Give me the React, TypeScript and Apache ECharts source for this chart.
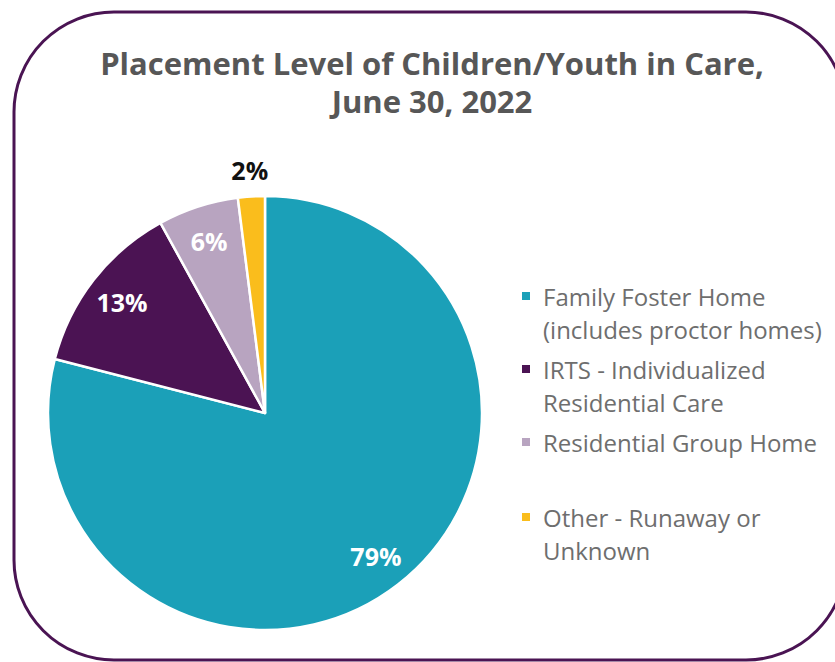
import React, { useEffect, useRef } from "react";
import * as echarts from "echarts";

const categories = [
  "Family Foster Home",
  "IRTS - Individualized Residential Care",
  "Residential Group Home",
  "Other - Runaway or Unknown",
];
const legendLabels = [
  "Family Foster Home\n(includes proctor homes)",
  "IRTS - Individualized\nResidential Care",
  "Residential Group Home\n ",
  "Other - Runaway or\nUnknown",
];
const values = [79, 13, 6, 2];
const colors = ["#1ba0b8", "#4b1353", "#b8a4c0", "#fabd1c"];
const titleLines = ["Placement Level of Children/Youth in Care,", "June 30, 2022"];

export default function App() {
  const ref = useRef<HTMLDivElement>(null);
  useEffect(() => {
    if (!ref.current) return;
    const chart = echarts.init(ref.current, undefined, { renderer: "svg" });
    const labelMap: Record<string, string> = {};
    categories.forEach((c, i) => (labelMap[c] = legendLabels[i]));
    const baseData = categories.map((name, i) => ({
      name,
      value: values[i],
      itemStyle: { color: colors[i] },
    }));
    const icon = "path://M0,0L8,0L8,8L0,8Z M16,42L15.99,42L16,41.99Z";
    const legendCommon = {
      orient: "vertical" as const,
      left: 522,
      padding: 0,
      itemGap: 7,
      itemWidth: 16,
      itemHeight: 42,
      icon,
      selectedMode: false,
      itemStyle: { borderWidth: 0 },
      formatter: (n: string) => labelMap[n],
      textStyle: {
        fontFamily: "Open Sans",
        fontSize: 24,
        lineHeight: 33,
        color: "#6e6e6e",
      },
    };
    chart.setOption({
      animation: false,
      graphic: [
        {
          type: "rect",
          shape: { x: 14, y: 12, width: 832, height: 648, r: 100 },
          style: { fill: "none", stroke: "#4a1453", lineWidth: 3 },
          silent: true,
        },
        ...titleLines.map((t, i) => ({
          type: "text",
          x: 432,
          y: 63 + i * 38,
          style: {
            text: t,
            align: "center",
            verticalAlign: "middle",
            fontFamily: "Open Sans",
            fontWeight: "bold",
            fontSize: 31,
            fill: "#575757",
          },
        })),
      ],
      legend: [
        { ...legendCommon, top: 280, data: categories.slice(0, 3) },
        { ...legendCommon, top: 501, data: categories.slice(3) },
      ],
      series: [
        {
          type: "pie",
          center: [265, 413],
          radius: [0, 217],
          startAngle: 90,
          clockwise: true,
          silent: true,
          data: baseData,
          itemStyle: { borderColor: "#ffffff", borderWidth: 2.5 },
          label: { show: false },
          labelLine: { show: false },
        },
        {
          type: "pie",
          center: [265, 413],
          radius: [139, 217],
          startAngle: 90,
          clockwise: true,
          silent: true,
          data: categories.map((name, i) => ({
            name,
            value: values[i],
            itemStyle: { color: "rgba(0,0,0,0)" },
            label: { show: i < 3 },
          })),
          label: {
            position: "inside",
            formatter: "{c}%",
            color: "#ffffff",
            fontFamily: "Open Sans",
            fontWeight: "bold",
            fontSize: 25,
          },
          labelLine: { show: false },
        },
        {
          type: "pie",
          center: [265, 413],
          radius: [226, 254],
          startAngle: 90,
          clockwise: true,
          silent: true,
          data: categories.map((name, i) => ({
            name,
            value: values[i],
            itemStyle: { color: "rgba(0,0,0,0)" },
            label: { show: i === 3 },
          })),
          label: {
            position: "inside",
            formatter: "{c}%",
            color: "#111111",
            fontFamily: "Open Sans",
            fontWeight: "bold",
            fontSize: 25,
          },
          labelLine: { show: false },
        },
      ],
    });
    return () => chart.dispose();
  }, []);
  return (
    <div
      ref={ref}
      style={{ position: "fixed", left: 0, top: 0, width: 835, height: 662, background: "#ffffff" }}
    />
  );
}
